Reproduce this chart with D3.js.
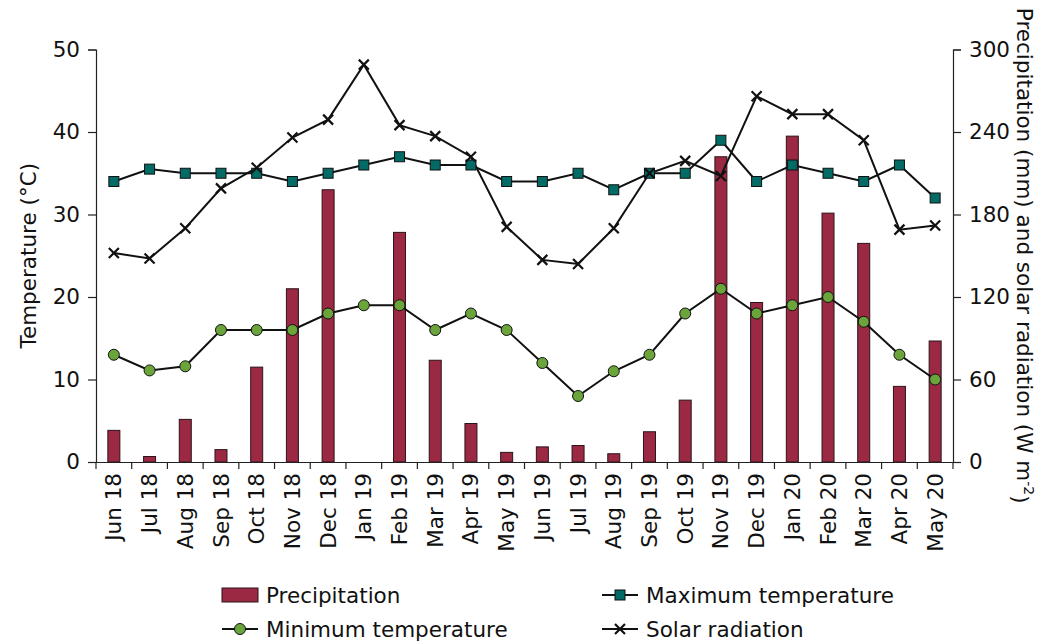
<!DOCTYPE html>
<html>
<head>
<meta charset="utf-8">
<script src="https://cdn.jsdelivr.net/npm/d3@7"></script>
<style>
  body { margin: 0; background: #fff; }
  text { font-family: "DejaVu Sans", sans-serif; fill: #111; }
</style>
</head>
<body>
<div id="chart"></div>
<script>
var months = ["Jun 18", "Jul 18", "Aug 18", "Sep 18", "Oct 18", "Nov 18", "Dec 18",
  "Jan 19", "Feb 19", "Mar 19", "Apr 19", "May 19", "Jun 19", "Jul 19", "Aug 19",
  "Sep 19", "Oct 19", "Nov 19", "Dec 19", "Jan 20", "Feb 20", "Mar 20", "Apr 20", "May 20"]

var precipitation = [23, 4, 31, 9, 69, 126, 198, 0, 167, 74, 28, 7, 11, 12, 6, 22, 45,
  222, 116, 237, 181, 159, 55, 88]
var maxTemp = [34, 35.5, 35, 35, 35, 34, 35, 36, 37, 36, 36, 34, 34, 35, 33, 35, 35,
  39, 34, 36, 35, 34, 36, 32]
var minTemp = [13, 11.1, 11.6, 16, 16, 16, 18, 19, 19, 16, 18, 16, 12, 8, 11, 13, 18,
  21, 18, 19, 20, 17, 13, 10]
var solar = [152, 148, 170, 199, 214, 236, 249, 289, 245, 237, 222, 171, 147, 144, 170,
  210, 219, 208, 266, 253, 253, 234, 169, 172]

var tempTicks = [0, 10, 20, 30, 40, 50]
var rightTicks = [0, 60, 120, 180, 240, 300]

var fontSize = "21.5px"

var margin = { top: 49.5, left: 96, right: 102, bottom: 182 },
  width = 1055 - margin.left - margin.right,
  height = 644 - margin.top - margin.bottom

var svg = d3.select("#chart")
  .append("svg")
  .attr("width", 1055)
  .attr("height", 644)
  .append("g")
  .attr("transform", "translate(" + margin.left + "," + margin.top + ")")

var xScale = d3.scaleBand().domain(months).range([0, width]).padding(0)
var yTemp = d3.scaleLinear().domain([0, 50]).range([height, 0])
var yRight = d3.scaleLinear().domain([0, 300]).range([height, 0])

var cx = function(d, i) { return xScale(months[i]) + xScale.bandwidth() / 2 }

// bars
var barW = 12
svg.selectAll(".bar")
  .data(precipitation)
  .enter().append("rect")
  .attr("class", "bar")
  .attr("x", function(d, i) { return cx(d, i) - barW / 2 })
  .attr("y", function(d) { return yRight(d) })
  .attr("width", barW)
  .attr("height", function(d) { return height - yRight(d) })
  .attr("fill", function(d) { return d > 0 ? "#9b2944" : "none" })
  .attr("stroke", function(d) { return d > 0 ? "#2b1418" : "none" })
  .attr("stroke-width", 1)

// axes
var leftAxis = d3.axisLeft(yTemp).tickValues(tempTicks).tickSize(8).tickPadding(8)
svg.append("g").attr("class", "axis").call(leftAxis)

var rightAxis = d3.axisRight(yRight).tickValues(rightTicks).tickSize(8).tickPadding(8)
svg.append("g").attr("class", "axis")
  .attr("transform", "translate(" + width + ",0)")
  .call(rightAxis)

var xAxis = d3.axisBottom(xScale).tickSize(0).tickPadding(10)
var xg = svg.append("g").attr("class", "axis x-axis")
  .attr("transform", "translate(0," + height + ")")
  .call(xAxis)
xg.selectAll("text")
  .attr("transform", "rotate(-90)")
  .attr("text-anchor", "end")
  .attr("dy", "0.35em")
  .attr("x", -11)
  .attr("y", 0)

// boundary ticks
var bounds = months.map(function(m) { return xScale(m) }).concat([width])
xg.selectAll(".bound")
  .data(bounds)
  .enter().append("line")
  .attr("class", "bound")
  .attr("x1", function(d) { return d })
  .attr("x2", function(d) { return d })
  .attr("y1", 0)
  .attr("y2", 7)
  .attr("stroke", "#222")

svg.selectAll(".axis text").style("font-size", fontSize).style("font-family", "DejaVu Sans")
svg.selectAll(".axis path, .axis line").attr("stroke", "#222").attr("stroke-width", 1.2)

// lines
var lineOf = function(scale) {
  return d3.line()
    .x(function(d, i) { return cx(d, i) })
    .y(function(d) { return scale(d) })
}

svg.append("path").datum(solar)
  .attr("d", lineOf(yRight))
  .attr("fill", "none").attr("stroke", "#111").attr("stroke-width", 2)

svg.append("path").datum(maxTemp)
  .attr("d", lineOf(yTemp))
  .attr("fill", "none").attr("stroke", "#111").attr("stroke-width", 2)

svg.append("path").datum(minTemp)
  .attr("d", lineOf(yTemp))
  .attr("fill", "none").attr("stroke", "#111").attr("stroke-width", 2)

// markers
svg.selectAll(".maxT")
  .data(maxTemp)
  .enter().append("rect")
  .attr("class", "maxT")
  .attr("x", function(d, i) { return cx(d, i) - 5 })
  .attr("y", function(d) { return yTemp(d) - 5 })
  .attr("width", 10).attr("height", 10)
  .attr("fill", "#036b66").attr("stroke", "#111").attr("stroke-width", 1)

svg.selectAll(".minT")
  .data(minTemp)
  .enter().append("circle")
  .attr("class", "minT")
  .attr("cx", function(d, i) { return cx(d, i) })
  .attr("cy", function(d) { return yTemp(d) })
  .attr("r", 5.5)
  .attr("fill", "#6aa43a").attr("stroke", "#111").attr("stroke-width", 1)

var crossPath = "M-5,-5L5,5M-5,5L5,-5"
svg.selectAll(".sol")
  .data(solar)
  .enter().append("path")
  .attr("class", "sol")
  .attr("d", crossPath)
  .attr("transform", function(d, i) { return "translate(" + cx(d, i) + "," + yRight(d) + ")" })
  .attr("stroke", "#111").attr("stroke-width", 2.2)

// axis titles
svg.append("text")
  .attr("transform", "translate(-60," + height / 2 + ") rotate(-90)")
  .attr("text-anchor", "middle")
  .style("font-size", fontSize)
  .text("Temperature (°C)")

var rt = svg.append("text")
  .attr("transform", "translate(" + (width + 64) + "," + height / 2 + ") rotate(90)")
  .attr("text-anchor", "middle")
  .style("font-size", fontSize)
rt.append("tspan").text("Precipitation (mm) and solar radiation (W m")
rt.append("tspan").attr("dy", "-0.5em").style("font-size", "14px").text("-2")
rt.append("tspan").attr("dy", "0.5em").text(")")

// legend
var legend = d3.select("svg").append("g")
var legendItems = [
  { name: "Precipitation", type: "bar", x: 222, y: 595 },
  { name: "Maximum temperature", type: "square", x: 602, y: 595 },
  { name: "Minimum temperature", type: "circle", x: 222, y: 629 },
  { name: "Solar radiation", type: "cross", x: 602, y: 629 }
]
legendItems.forEach(function(item) {
  var g = legend.append("g").attr("transform", "translate(" + item.x + "," + item.y + ")")
  if (item.type === "bar") {
    g.append("rect").attr("x", 0).attr("y", -7).attr("width", 36).attr("height", 14)
      .attr("fill", "#9b2944").attr("stroke", "#2b1418")
  } else {
    g.append("line").attr("x1", 0).attr("x2", 36).attr("y1", 0).attr("y2", 0)
      .attr("stroke", "#111").attr("stroke-width", 2)
    if (item.type === "square") {
      g.append("rect").attr("x", 13).attr("y", -5).attr("width", 10).attr("height", 10)
        .attr("fill", "#036b66").attr("stroke", "#111")
    } else if (item.type === "circle") {
      g.append("circle").attr("cx", 18).attr("cy", 0).attr("r", 5.5)
        .attr("fill", "#6aa43a").attr("stroke", "#111")
    } else {
      g.append("path").attr("d", crossPath).attr("transform", "translate(18,0)")
        .attr("stroke", "#111").attr("stroke-width", 2.2)
    }
  }
  g.append("text").attr("x", 44).attr("y", 0).attr("dy", "0.35em")
    .style("font-size", fontSize).text(item.name)
})
</script>
</body>
</html>
